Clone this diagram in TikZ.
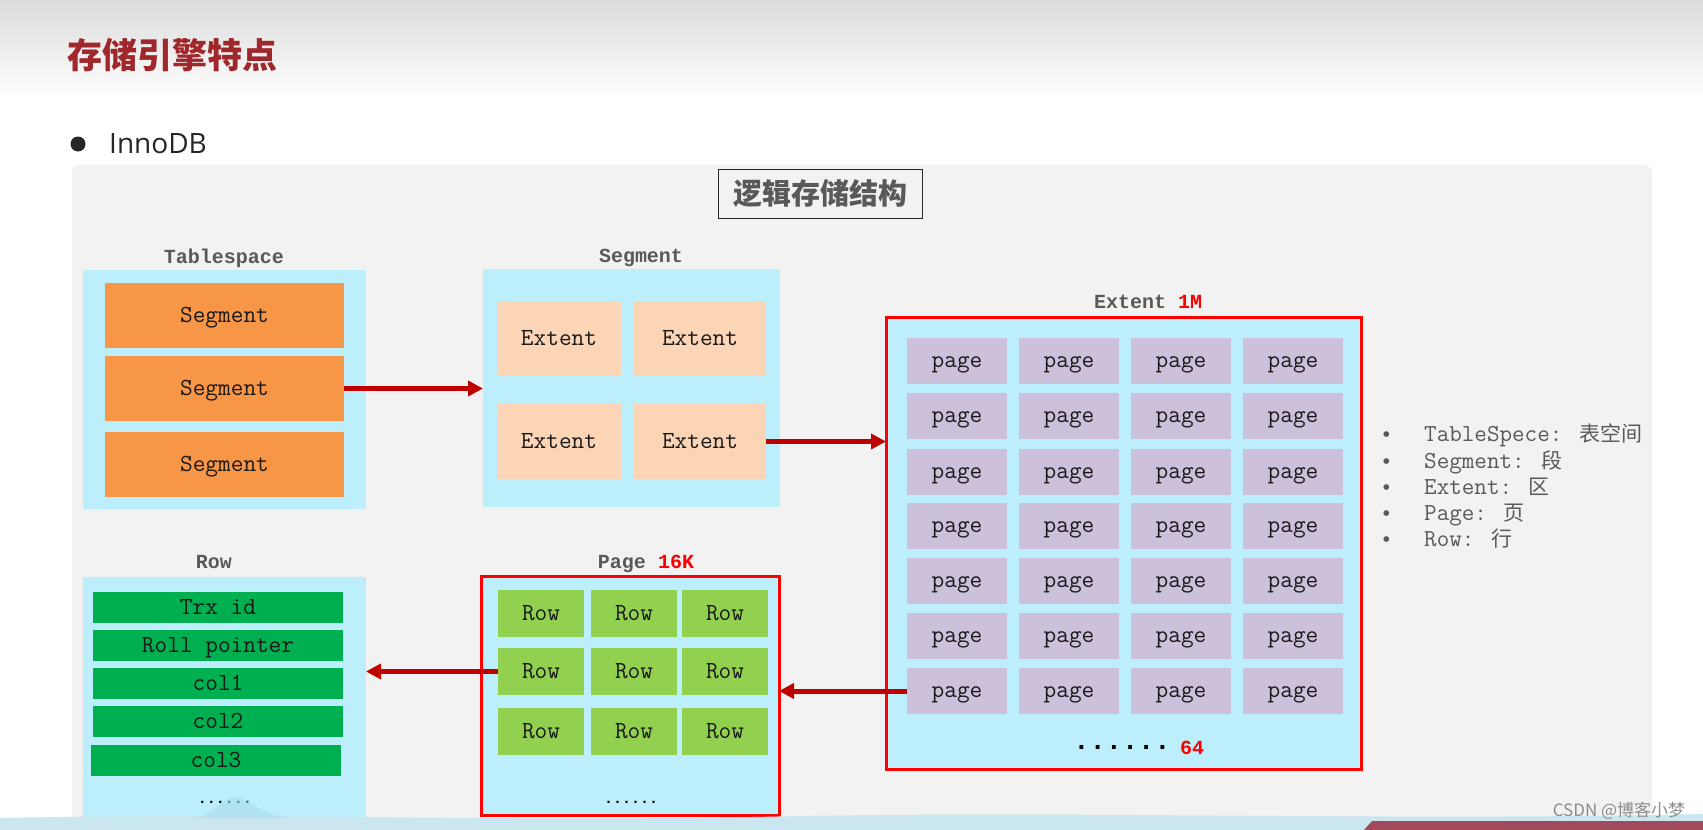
\documentclass[tikz,border=0pt]{standalone}
\usepackage{fontspec}
\newfontfamily\cjk{Noto Sans CJK SC}
\newfontfamily\mono{Liberation Mono}
\newfontfamily\sansf{Open Sans}
\usetikzlibrary{arrows.meta}
\definecolor{panel}{HTML}{F2F2F2}
\definecolor{lblue}{HTML}{BDEEFB}
\definecolor{orng}{HTML}{F79646}
\definecolor{peach}{HTML}{FBD5B5}
\definecolor{lav}{HTML}{CCC0DA}
\definecolor{grn}{HTML}{00B050}
\definecolor{lgrn}{HTML}{92D050}
\definecolor{arr}{HTML}{C00000}
\definecolor{ttl}{HTML}{A0282C}
\definecolor{lbl}{HTML}{595959}
\definecolor{wave}{HTML}{CAE7F0}
\definecolor{wave2}{HTML}{A9DCEE}
\definecolor{barred}{HTML}{A04A5C}
\begin{document}
\begin{tikzpicture}[x=1pt,y=-1pt,
  box/.style={anchor=north west, inner sep=0pt, outer sep=0pt, text height=17pt, text depth=4pt,
    font=\ttfamily\fontsize{24.6}{28}\selectfont, text=black!90},
  cont/.style={anchor=north west, inner sep=0pt, outer sep=0pt, fill=lblue},
  redcont/.style={cont, draw=red, line width=3pt},
  lbltext/.style={anchor=base, inner sep=0pt, font=\mono\bfseries\fontsize{20}{24}\selectfont, text=lbl},
  legend/.style={anchor=base west, inner sep=0pt, font=\ttfamily\fontsize{24.4}{28}\selectfont, text=lbl},
  arrow/.style={draw=arr, line width=5pt, -{Triangle[length=15pt,width=15pt]}},
  dots/.style={anchor=base, inner sep=0pt, font=\mono\bfseries\fontsize{15}{18}\selectfont, text=black}]
\useasboundingbox (0,0) rectangle (1703,830);
\fill[white] (0,0) rectangle (1703,830);
\shade[top color=black!14, bottom color=white] (0,0) rectangle (1703,100);
% title
\node[anchor=west, inner sep=0pt, font=\cjk\bfseries\fontsize{35}{40}\selectfont, text=ttl] (title) at (67,55) {存储引擎特点};
\fill[black!85] (78,144) circle (7.5pt);
\node[anchor=west, inner sep=0pt, font=\sansf\fontsize{28}{32}\selectfont, text=black!85] (inno) at (109,144) {InnoDB};
% panel
\fill[panel, rounded corners=8pt] (72,165) rectangle (1652,840);
\node[anchor=north west, draw=black!85, line width=1pt, minimum width=204pt, minimum height=49pt, inner sep=0pt,
  font=\cjk\bfseries\fontsize{29}{32}\selectfont, text=lbl] (lst) at (718,169) {逻辑存储结构};
% Tablespace
\node[lbltext] (tsl) at (224,263) {Tablespace};
\node[cont, minimum width=283pt, minimum height=239pt] (ts) at (83,270) {};
\node[box, fill=orng, minimum width=239pt, minimum height=65pt] (s1) at (105,283) {Segment};
\node[box, fill=orng, minimum width=239pt, minimum height=65pt] (s2) at (105,356) {Segment};
\node[box, fill=orng, minimum width=239pt, minimum height=65pt] (s3) at (105,432) {Segment};
% Segment
\node[lbltext] (sgl) at (641,262) {Segment};
\node[cont, minimum width=297pt, minimum height=238pt] (sg) at (483,269) {};
\node[box, fill=peach, minimum width=124pt, minimum height=75pt] (e1) at (497,301) {Extent};
\node[box, fill=peach, minimum width=132pt, minimum height=75pt] (e2) at (634,301) {Extent};
\node[box, fill=peach, minimum width=124pt, minimum height=75pt] (e3) at (497,404) {Extent};
\node[box, fill=peach, minimum width=132pt, minimum height=75pt] (e4) at (634,404) {Extent};
% Extent
\node[lbltext] (exl) at (1148,308) {Extent {\color{red}1M}};
\node[redcont, minimum width=475pt, minimum height=452pt] (ex) at (886,317) {};
\foreach \r/\y in {1/338,2/393,3/449,4/503,5/558,6/613,7/668}
  \foreach \c/\x in {1/907,2/1019,3/1131,4/1243}
    \node[box, fill=lav, minimum width=100pt, minimum height=46pt] (p\r\c) at (\x,\y) {page};
\node[anchor=base, inner sep=0pt, font=\mono\bfseries\fontsize{27}{30}\selectfont] (exd) at (1122,749) {......};
\node[anchor=base west, inner sep=0pt, font=\mono\bfseries\fontsize{20}{24}\selectfont, text=red] (ex64) at (1180,754) {64};
% Page
\node[lbltext] (pgl) at (646,568) {Page {\color{red}16K}};
\node[redcont, minimum width=298pt, minimum height=239pt] (pg) at (481,576) {};
\foreach \r/\y in {1/590,2/648,3/708}
  \foreach \c/\x in {1/498,2/591,3/682}
    \node[box, fill=lgrn, minimum width=86pt, minimum height=47pt] (r\r\c) at (\x,\y) {Row};
\node[dots] (pgd) at (631,803) {......};
% Row
\node[lbltext] (rwl) at (214,568) {Row};
\node[cont, minimum width=283pt, minimum height=240pt] (rw) at (83,577) {};
\node[box, fill=grn, minimum width=250pt, minimum height=31pt] (c1) at (93,592) {Trx id};
\node[box, fill=grn, minimum width=250pt, minimum height=31pt] (c2) at (93,630) {Roll pointer};
\node[box, fill=grn, minimum width=250pt, minimum height=31pt] (c3) at (93,668) {col1};
\node[box, fill=grn, minimum width=250pt, minimum height=31pt] (c4) at (93,706) {col2};
\node[box, fill=grn, minimum width=250pt, minimum height=31pt] (c5) at (91,745) {col3};
\node[dots] (rwd) at (225,803) {......};
% arrows
\draw[arrow] (s2.east) -- (sg.west |- s2.east);
\draw[arrow] (e4.east) -- (ex.west |- e4.east);
\draw[arrow] (p71.west) -- (pg.east |- p71.west);
\draw[arrow] (r21.west) -- (rw.east |- r21.west);
% legend
\foreach \y/\t in {441/{TableSpece: {\cjk\fontsize{21}{24}\selectfont 表空间}}, 468/{Segment: {\cjk\fontsize{21}{24}\selectfont 段}}, 494/{Extent: {\cjk\fontsize{21}{24}\selectfont 区}}, 520/{Page: {\cjk\fontsize{21}{24}\selectfont 页}}, 546/{Row: {\cjk\fontsize{21}{24}\selectfont 行}}}{
  \node[legend, font=\mono\fontsize{21}{24}\selectfont] at (1380,\y) {•};
  \node[legend] at (1424,\y) {\t};
}
% bottom decoration
\fill[wave] (0,818) .. controls (300,812) and (500,823) .. (800,816) .. controls (1100,811) and (1400,821) .. (1703,814) -- (1703,830) -- (0,830) -- cycle;
\fill[wave2, opacity=0.6] (195,818) .. controls (215,815) and (222,797) .. (236,797) .. controls (250,798) and (258,815) .. (290,818) -- cycle;
\fill[barred] (1372,821) -- (1703,821) -- (1703,830) -- (1364,830) -- cycle;
\node[anchor=base, inner sep=0pt, font=\cjk\fontsize{17}{20}\selectfont, text=black!45] (wm) at (1619,816) {CSDN @博客小梦};
\end{tikzpicture}
\end{document}
